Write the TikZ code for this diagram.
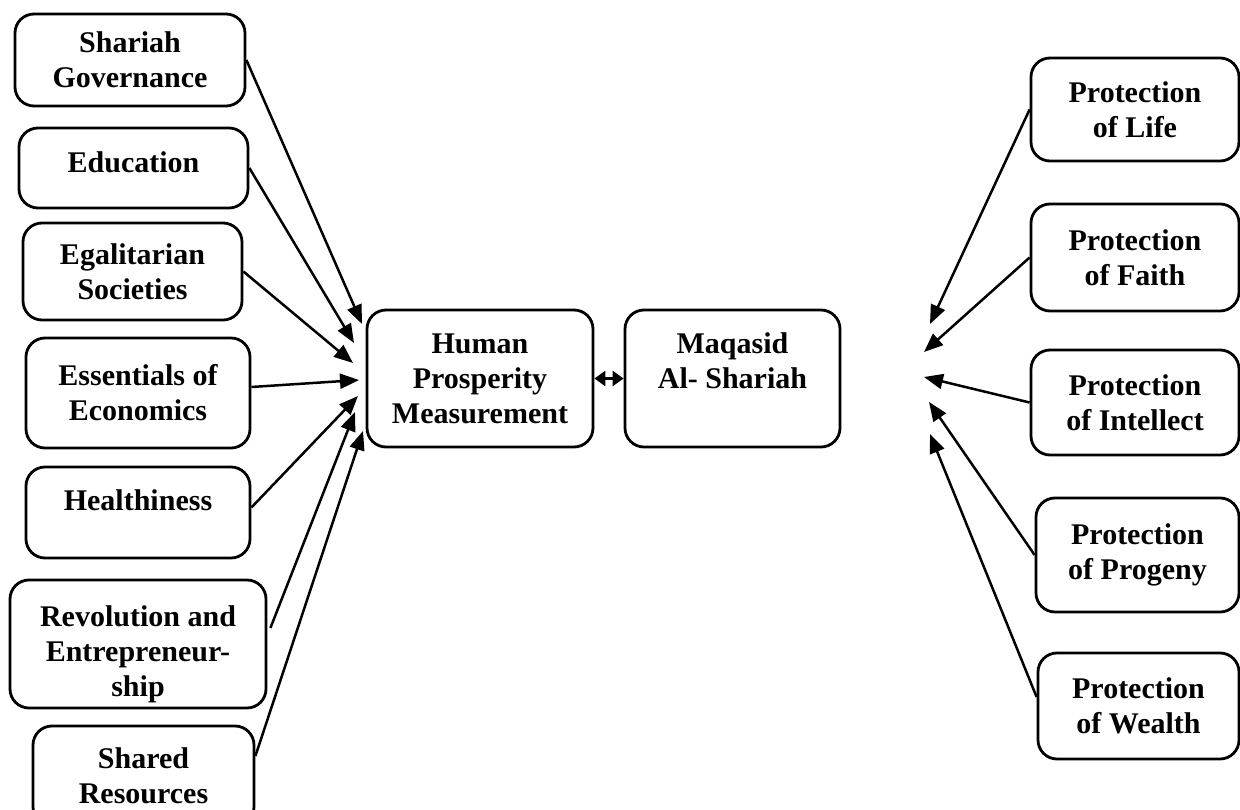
\documentclass[tikz,border=0pt]{standalone}
\usepackage{fontspec}
\setmainfont{Liberation Serif}
\usetikzlibrary{arrows.meta}

\begin{document}
\begin{tikzpicture}[x=1pt, y=-1pt, box/.style = {draw, rounded corners=19pt, line width=2.8pt, align=center, inner sep=2pt, font=\fontsize{30}{35}\selectfont\bfseries}, arr/.style = {line width=2.5pt, -{Triangle[length=19pt, width=15pt]}}]
                \clip (0,0) rectangle (1240,810);
                % left side
                \node[box, minimum width=230pt, minimum height=92pt] (sg) at (130,60) {Shariah\\Governance};
                \node[box, minimum width=229pt, minimum height=80pt, text depth=12pt] (ed) at (133.5,168) {Education};
                \node[box, minimum width=219pt, minimum height=97pt] (eg) at (132.5,271.5) {Egalitarian\\Societies};
                \node[box, minimum width=224pt, minimum height=110pt] (ee) at (138,393) {Essentials of\\Economics};
                \node[box, minimum width=224pt, minimum height=91pt, text depth=24pt] (he) at (138,512.5) {Healthiness};
                \node[box, minimum width=256pt, minimum height=128pt] (re) at (138,644) {\rule{0pt}{42pt}Revolution and\\Entrepreneur-\\ship};
                \node[box, minimum width=221pt, minimum height=100pt] (sr) at (143.5,776) {Shared\\Resources};
                % middle
                \node[box, minimum width=226pt, minimum height=137pt] (hp) at (480,378.5) {Human\\Prosperity\\Measurement};
                \node[box, minimum width=215pt, minimum height=137pt] (mq) at (732.5,378.5) {Maqasid\\Al- Shariah\\\mbox{}};
                % right side
                \node[box, minimum width=208pt, minimum height=103pt] (pl) at (1135,109.5) {Protection\\of Life};
                \node[box, minimum width=208pt, minimum height=107pt] (pf) at (1135,257.5) {Protection\\of Faith};
                \node[box, minimum width=208pt, minimum height=105pt] (pi) at (1135,402.5) {Protection\\of Intellect};
                \node[box, minimum width=203pt, minimum height=114pt] (pp) at (1137.5,555) {Protection\\of Progeny};
                \node[box, minimum width=201pt, minimum height=106pt] (pw) at (1138.5,706) {Protection\\of Wealth};
                % arrow tips
                \coordinate (tsg) at (362,324);
                \coordinate (ted) at (354,343);
                \coordinate (teg) at (353,363);
                \coordinate (tee) at (359,380);
                \coordinate (the) at (358,396);
                \coordinate (tre) at (355,412);
                \coordinate (tsr) at (363,431);
                \coordinate (tpl) at (930,324);
                \coordinate (tpf) at (924,352);
                \coordinate (tpi) at (924,377);
                \coordinate (tpp) at (929,402);
                \coordinate (tpw) at (930,434);
                \draw[arr] (sg.east) -- (tsg);
                \draw[arr] (ed.east) -- (ted);
                \draw[arr] (eg.east) -- (teg);
                \draw[arr] ([yshift=6pt]ee.east) -- (tee);
                \draw[arr] ([yshift=5pt]he.east) -- (the);
                \draw[arr] ([xshift=3pt, yshift=16pt]re.east) -- (tre);
                \draw[arr] ([yshift=20pt]sr.east) -- (tsr);
                \draw[arr] (pl.west) -- (tpl);
                \draw[arr] (pf.west) -- (tpf);
                \draw[arr] (pi.west) -- (tpi);
                \draw[arr] (pp.west) -- (tpp);
                \draw[arr] ([yshift=9pt]pw.west) -- (tpw);
                \draw[line width=2.5pt, {Triangle[length=11pt, width=15pt]}-{Triangle[length=11pt, width=15pt]}] (hp.east) -- (mq.west);
            \end{tikzpicture}
\end{document}
